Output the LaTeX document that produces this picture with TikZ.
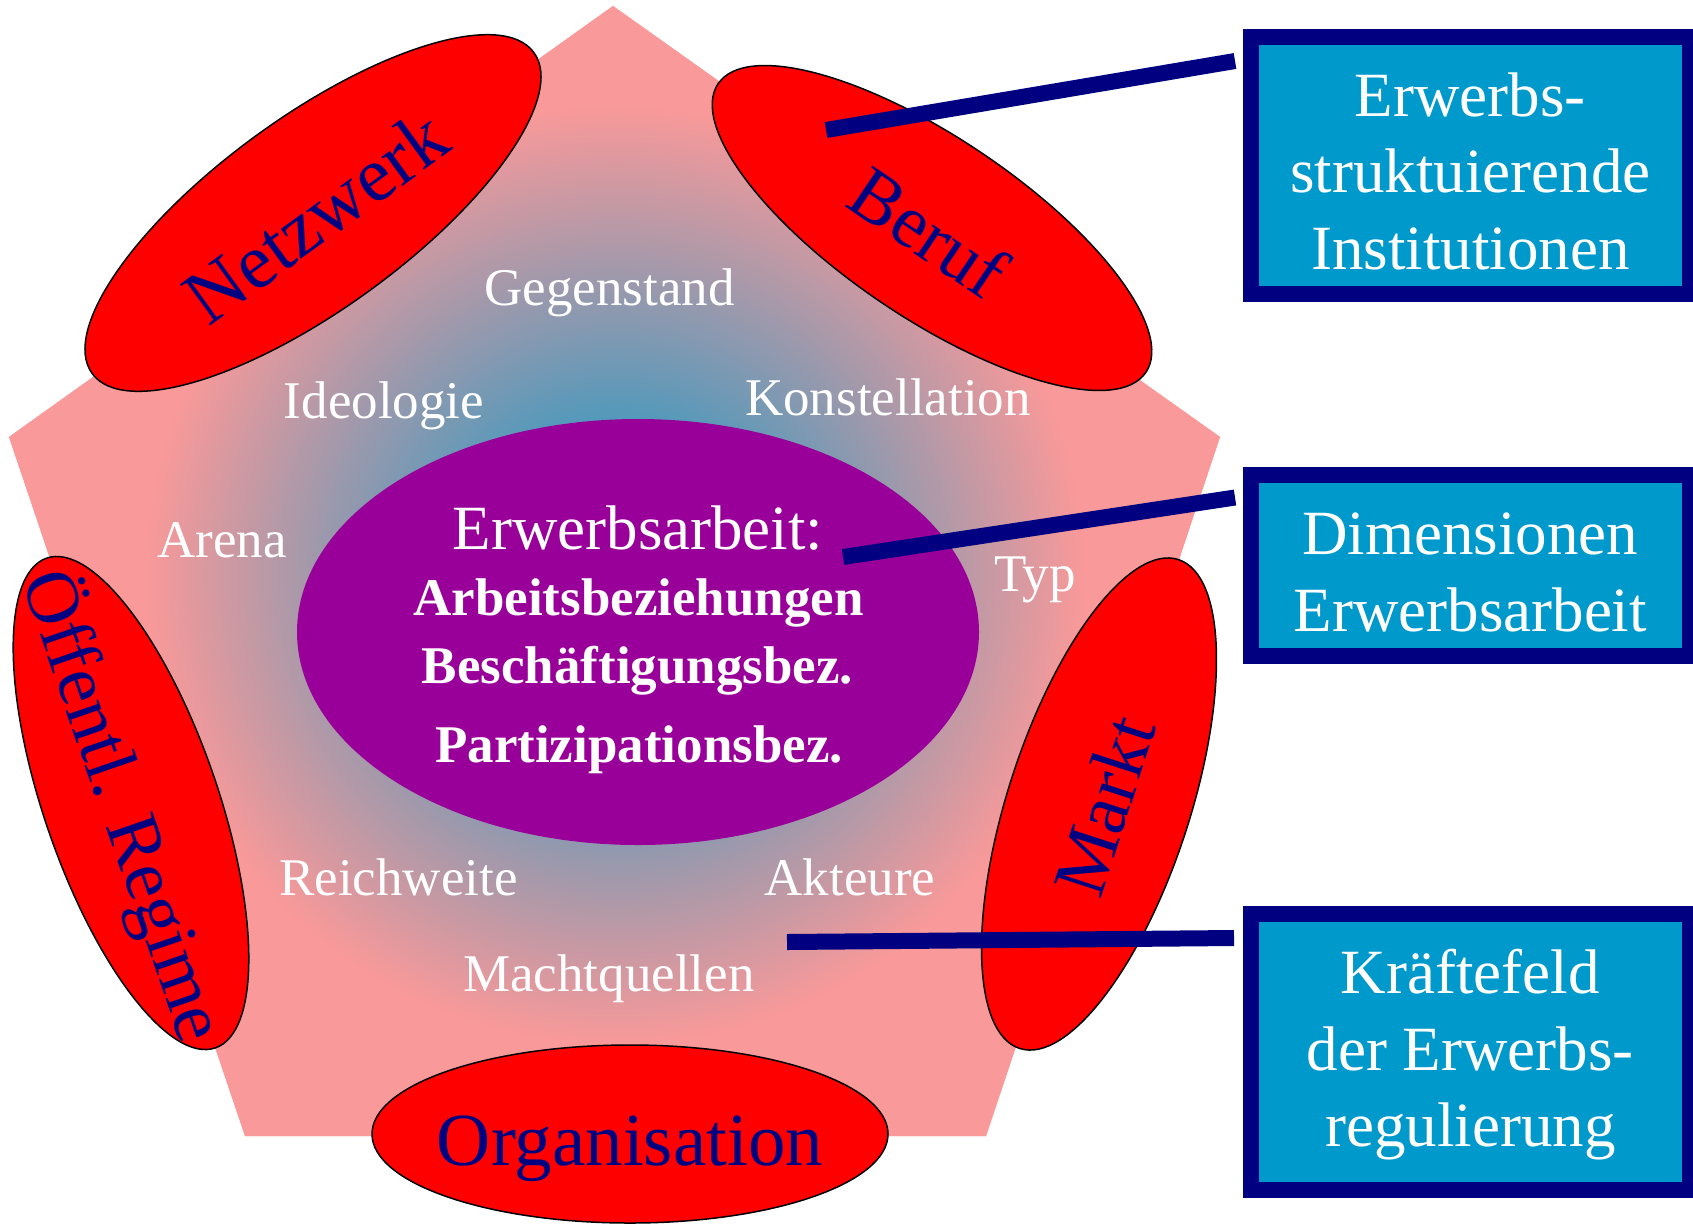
\documentclass[tikz,border=0pt]{standalone}
\usepackage{fontspec}
\setmainfont{Liberation Serif}
\usetikzlibrary{shapes.geometric}
\definecolor{pinkbg}{RGB}{250,153,153}
\definecolor{glowblue}{RGB}{0,153,204}
\definecolor{navyc}{RGB}{0,0,128}
\definecolor{purp}{RGB}{153,0,153}
\definecolor{boxfill}{RGB}{0,153,204}
\pgfdeclareradialshading{glow}{\pgfpoint{0bp}{0bp}}{color(0bp)=(glowblue); color(16.8bp)=(pinkbg); color(50bp)=(pinkbg)}
\newcommand{\zw}[1]{\makebox[0pt]{#1}}
\tikzset{
  redell/.style={ellipse, draw=black, line width=1.5pt, fill=red, inner sep=0pt,
    text=navyc, text height=62pt, text depth=0pt},
  lbl/.style={anchor=base, text=white, inner sep=0pt, font=\fontsize{53}{64}\selectfont},
  coretxt/.style={anchor=base, text=white, inner sep=0pt, font=\fontsize{53}{64}\selectfont\bfseries},
  infobox/.style={rectangle, draw=navyc, line width=16pt, fill=boxfill, text=white,
    minimum width=439pt, align=center, inner sep=0pt, font=\fontsize{63}{76.5}\selectfont},
  conn/.style={draw=navyc, line width=16pt}
}
\begin{document}
\begin{tikzpicture}[x=1pt,y=-1pt]
\useasboundingbox (0,0) rectangle (1693,1224);
% pentagon with radial glow
\fill[pinkbg] (613,6) -- (1220,437) -- (986,1136) -- (245,1136) -- (9,437) -- cycle;
\begin{scope}
  \clip (613,6) -- (1220,437) -- (986,1136) -- (245,1136) -- (9,437) -- cycle;
  \shade[shading=glow] (615,575) circle (700);
\end{scope}
% core ellipse
\node[ellipse, fill=purp, minimum width=682pt, minimum height=426pt, inner sep=0pt] (core) at (638,632) {};
\node[anchor=base, text=white, inner sep=0pt, font=\fontsize{63}{76}\selectfont] (t0) at (638,549.8) {Erwerbsarbeit:};
\node[coretxt] (t1) at (638.5,615.4) {Arbeitsbeziehungen};
\node[coretxt] (t2) at (637.5,683.8) {Beschäftigungsbez.};
\node[coretxt] (t3) at (639,762.6) {Partizipationsbez.};
% dimension labels
\node[lbl] (gegen) at (609.5,305) {Gegenstand};
\node[lbl] (ideo) at (384,418) {Ideologie};
\node[lbl] (konst) at (888,415) {Konstellation};
\node[lbl] (arena) at (222,557.6) {Arena};
\node[lbl] (typ) at (1035,591.8) {Typ};
\node[lbl] (reich) at (398.5,895) {Reichweite};
\node[lbl] (akt) at (850,895) {Akteure};
\node[lbl] (macht) at (609,991.7) {Machtquellen};
% red ellipses
\node[redell, minimum width=546pt, minimum height=192pt, rotate=36, font=\fontsize{78}{90}\selectfont] (netz) at (313,213) {\zw{Netzwerk}};
\node[redell, minimum width=516pt, minimum height=180pt, rotate=-34, font=\fontsize{75}{90}\selectfont] (beruf) at (932,228) {\zw{Beruf}};
\node[redell, minimum width=514pt, minimum height=182pt, rotate=72, font=\fontsize{75}{90}\selectfont] (markt) at (1099,804) {\zw{Markt}};
\node[redell, minimum width=518pt, minimum height=174pt, rotate=-71, font=\fontsize{75}{90}\selectfont] (oeff) at (131,803) {\zw{Öffentl. Regime}};
\node[redell, minimum width=516pt, minimum height=178pt, font=\fontsize{75}{90}\selectfont] (orga) at (630,1134) {\zw{Organisation}};
% boxes
\node[infobox, minimum height=257pt] (box1) at (1470.3,165) {\rule{0pt}{56pt}Erwerbs-\\struktuierende\\Institutionen};
\node[infobox, minimum height=181pt] (box2) at (1470.3,565.4) {\rule{0pt}{56pt}Dimensionen\\Erwerbsarbeit};
\node[infobox, minimum height=276pt] (box3) at (1470.3,1052) {\rule{0pt}{50pt}Kräftefeld\\der Erwerbs-\\regulierung};
% connectors
\coordinate (c1s) at (826,130);
\coordinate (c1e) at (1235,61);
\coordinate (c2s) at (843,557);
\coordinate (c2e) at (1235,497.5);
\coordinate (c3s) at (787,942);
\coordinate (c3e) at (1234,938);
\draw[conn] (c1s) -- (c1e);
\draw[conn] (c2s) -- (c2e);
\draw[conn] (c3s) -- (c3e);
\end{tikzpicture}
\end{document}
